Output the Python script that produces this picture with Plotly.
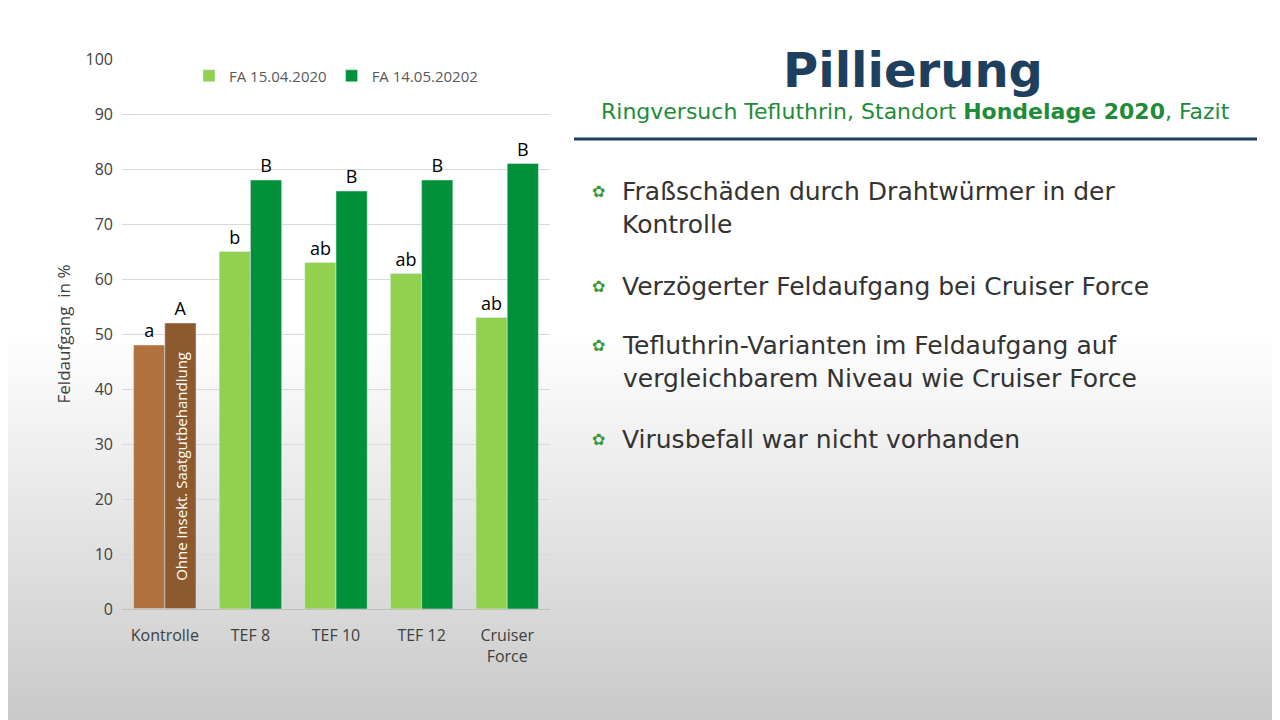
import plotly.graph_objects as go
import base64

categories = ["Kontrolle", "TEF 8", "TEF 10", "TEF 12", "Cruiser<br>Force"]
fa1 = [48, 65, 63, 61, 53]
fa2 = [52, 78, 76, 78, 81]
lab1 = ["a", "b", "ab", "ab", "ab"]
lab2 = ["A", "B", "B", "B", "B"]
col1 = ["#B07340", "#92D050", "#92D050", "#92D050", "#92D050"]
col2 = ["#8C5A2E", "#00913A", "#00913A", "#00913A", "#00913A"]
bullets = ["Fraßschäden durch Drahtwürmer in der<br>Kontrolle",
           "Verzögerter Feldaufgang bei Cruiser Force",
           "Tefluthrin-Varianten im Feldaufgang auf<br>vergleichbarem Niveau wie Cruiser Force",
           "Virusbefall war nicht vorhanden"]
bullet_y = [208, 286, 362, 439]

W, H = 1280, 720
OX, OY = 8, 8  # page body offset compensation

def px(x): return (x - OX) / W
def py(y): return 1 - (y - OY) / H

svg = ('<svg xmlns="http://www.w3.org/2000/svg" width="1280" height="720"><defs>'
       '<linearGradient id="g" x1="0" y1="0" x2="0" y2="1">'
       '<stop offset="0" stop-color="#ffffff"/><stop offset="0.45" stop-color="#ffffff"/>'
       '<stop offset="1" stop-color="#c8c8c8"/></linearGradient></defs>'
       '<rect width="1280" height="720" fill="url(#g)"/></svg>')
src = "data:image/svg+xml;base64," + base64.b64encode(svg.encode()).decode()

tf = dict(size=18, color="black", family="Open Sans")
fig = go.Figure()
fig.add_trace(go.Bar(x=categories, y=fa1, name="FA 15.04.2020", marker_color=col1, offsetgroup="1",
                     text=lab1, textposition="outside", constraintext="none",
                     textfont=tf, cliponaxis=False, showlegend=False))
fig.add_trace(go.Bar(x=categories, y=fa2, name="FA 14.05.20202", marker_color=col2, offsetgroup="2",
                     text=lab2, textposition="outside", constraintext="none",
                     textfont=tf, cliponaxis=False, showlegend=False))
fig.add_trace(go.Bar(x=[categories[0]], y=[0], name="FA 15.04.2020", marker_color="#92D050",
                     offsetgroup="1", hoverinfo="skip"))
fig.add_trace(go.Bar(x=[categories[0]], y=[0], name="FA 14.05.20202", marker_color="#00913A",
                     offsetgroup="2", hoverinfo="skip"))

fig.update_layout(
    width=W, height=H, margin=dict(l=0, r=0, t=0, b=0, autoexpand=False),
    paper_bgcolor="white", plot_bgcolor="rgba(0,0,0,0)",
    barmode="group", bargap=0.27, bargroupgap=0,
    font=dict(family="Open Sans", color="#404040"),
    xaxis=dict(domain=[px(122), px(550)], tickfont=dict(size=16, color="#404040"), showline=True,
               linecolor="#bfbfbf", ticks="", automargin=False, ticklabelstandoff=12),
    yaxis=dict(domain=[py(609), py(59)], range=[0, 100], dtick=10, showgrid=True, gridcolor="#d9d9d9",
               tickfont=dict(size=16, color="#404040"), zeroline=False, automargin=False,
               ticklabelstandoff=8,
               title=dict(text="Feldaufgang  in %", font=dict(size=17, color="#404040"), standoff=10)),
    legend=dict(orientation="h", x=px(336), xanchor="center", y=py(76), yanchor="middle",
                font=dict(size=15, color="#595959"), bgcolor="rgba(0,0,0,0)"),
    images=[dict(source=src, xref="paper", yref="paper", x=0, y=1, sizex=1, sizey=1,
                 sizing="stretch", layer="below")],
    showlegend=True,
)
fig.add_annotation(x=0, xref="x", y=26, yref="y", text="Ohne insekt. Saatgutbehandlung",
                   xanchor="center", yanchor="middle",
                   textangle=-90, showarrow=False, font=dict(size=15, color="white"), xshift=16)
fig.add_annotation(x=px(913), y=py(70), xref="paper", yref="paper", text="<b>Pillierung</b>",
                   xanchor="center", yanchor="middle",
                   showarrow=False, font=dict(size=48, color="#1F3F5F", family="DejaVu Sans"))
fig.add_annotation(x=px(915), y=py(112), xref="paper", yref="paper",
                   xanchor="center", yanchor="middle",
                   text="Ringversuch Tefluthrin, Standort <b>Hondelage 2020</b>, Fazit",
                   showarrow=False, font=dict(size=22, color="#1E8C3A", family="DejaVu Sans"))
fig.add_shape(type="line", xref="paper", yref="paper", x0=px(574), x1=px(1257),
              y0=py(139), y1=py(139), line=dict(color="#1F3F5F", width=3))
for t, yy in zip(bullets, bullet_y):
    first = yy if "<br>" not in t else yy - 17
    fig.add_annotation(x=px(598), y=py(first), xref="paper", yref="paper", text="✿",
                       xanchor="center", yanchor="middle",
                       showarrow=False, font=dict(size=16, color="#3a9a3a"))
    fig.add_annotation(x=px(620), y=py(yy), xref="paper", yref="paper", text=t, align="left",
                       xanchor="left", yanchor="middle", showarrow=False,
                       font=dict(size=25, color="#333333", family="DejaVu Sans"))
fig.write_html("out.html")
